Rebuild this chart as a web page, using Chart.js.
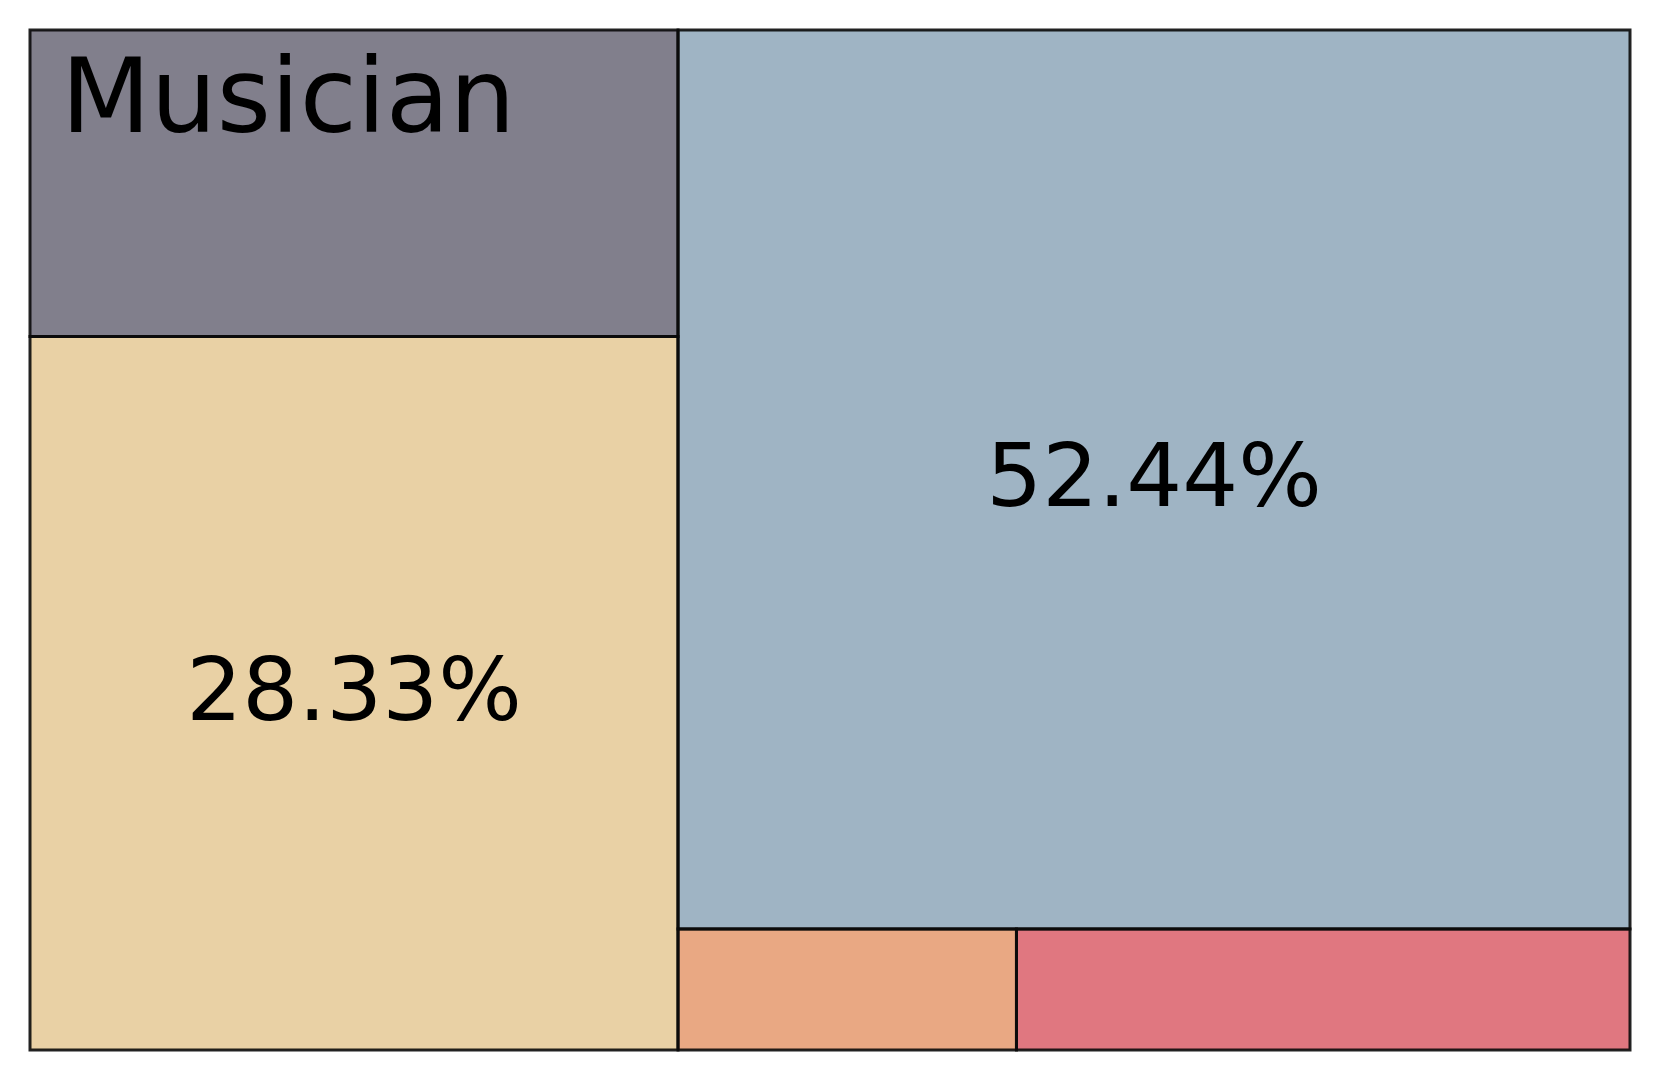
<!DOCTYPE html>
<html>
<head>
<meta charset="utf-8">
<script src="https://cdn.jsdelivr.net/npm/chart.js@4"></script>
<style>
  html, body { margin: 0; padding: 0; background: #fff; }
  #wrap { width: 1660px; height: 1080px; }
</style>
</head>
<body>
<div id="wrap"><canvas id="treemap"></canvas></div>
<script>
// cell values (percent of total), in layout order
const values = [12.17, 28.33, 52.44, 2.51, 4.55];
const cellText = ['Musician', '28.33%', '52.44%', '', ''];
const colors = ['#817f8c', '#e9d1a5', '#9fb4c4', '#e9a883', '#e07780'];

// layout groups: left column [0,1], right column [2, row of 3,4]
function sum(idx) { return idx.reduce((s, i) => s + values[i], 0); }

function buildCells() {
  const total = sum([0, 1, 2, 3, 4]);
  const cells = [];
  const leftW = sum([0, 1]) / total * 100;
  // left column stacked from top
  let top = 100;
  [0, 1].forEach(i => {
    const h = values[i] / sum([0, 1]) * 100;
    cells[i] = { x0: 0, x1: leftW, y0: top - h, y1: top };
    top -= h;
  });
  // right column: big cell on top, then a row
  const rightSum = sum([2, 3, 4]);
  const hBlue = values[2] / rightSum * 100;
  cells[2] = { x0: leftW, x1: 100, y0: 100 - hBlue, y1: 100 };
  let left = leftW;
  [3, 4].forEach(i => {
    const w = values[i] / sum([3, 4]) * (100 - leftW);
    cells[i] = { x0: left, x1: left + w, y0: 0, y1: 100 - hBlue };
    left += w;
  });
  return cells;
}

const cells = buildCells();

const treemapPlugin = {
  id: 'treemapCells',
  beforeDatasetsDraw(chart) {
    const { ctx, scales: { x, y } } = chart;
    const box = c => ({
      px0: x.getPixelForValue(c.x0), px1: x.getPixelForValue(c.x1),
      py0: y.getPixelForValue(c.y1), py1: y.getPixelForValue(c.y0)
    });
    ctx.save();
    cells.forEach((c, i) => {
      const b = box(c);
      ctx.fillStyle = colors[i];
      ctx.fillRect(b.px0, b.py0, b.px1 - b.px0, b.py1 - b.py0);
    });
    cells.forEach(c => {
      const b = box(c);
      ctx.strokeStyle = 'rgba(10,10,10,0.9)';
      ctx.lineWidth = 3;
      ctx.strokeRect(b.px0, b.py0, b.px1 - b.px0, b.py1 - b.py0);
    });
    ctx.restore();

    ctx.save();
    ctx.fillStyle = '#000';
    cells.forEach((c, i) => {
      if (!cellText[i]) return;
      const b = box(c);
      if (i === 0) {
        // category name in top-left corner
        ctx.font = '104px "DejaVu Sans"';
        ctx.textAlign = 'left';
        ctx.textBaseline = 'alphabetic';
        ctx.fillText(cellText[i], b.px0 + 31, b.py0 + 102);
      } else {
        ctx.font = '88px "DejaVu Sans"';
        ctx.textAlign = 'center';
        ctx.textBaseline = 'middle';
        ctx.fillText(cellText[i], (b.px0 + b.px1) / 2, (b.py0 + b.py1) / 2 + 4);
      }
    });
    ctx.restore();
  }
};

new Chart(document.getElementById('treemap'), {
  type: 'scatter',
  data: {
    datasets: [{
      data: cells.map(c => ({ x: (c.x0 + c.x1) / 2, y: (c.y0 + c.y1) / 2 })),
      pointRadius: 0,
      pointHoverRadius: 0
    }]
  },
  options: {
    responsive: true,
    maintainAspectRatio: false,
    animation: false,
    layout: { padding: { left: 30, top: 30, right: 30, bottom: 30 } },
    plugins: { legend: { display: false }, tooltip: { enabled: false } },
    scales: {
      x: { type: 'linear', min: 0, max: 100, display: false },
      y: { type: 'linear', min: 0, max: 100, display: false }
    }
  },
  plugins: [treemapPlugin]
});
</script>
</body>
</html>
